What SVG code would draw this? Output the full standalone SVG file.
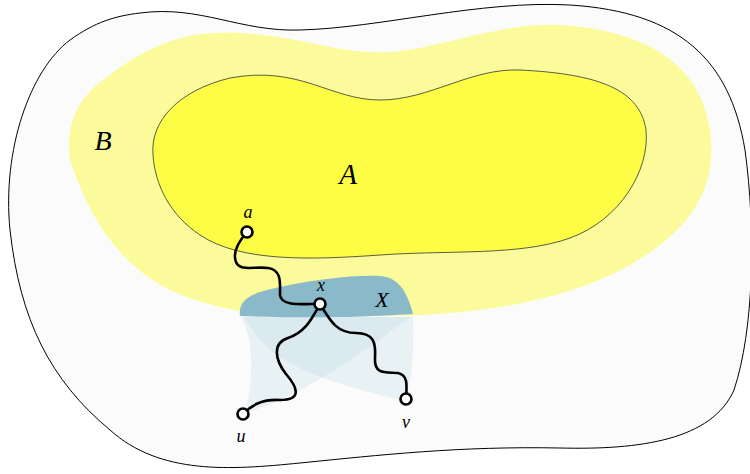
<svg xmlns="http://www.w3.org/2000/svg" width="750" height="474" viewBox="0 0 750 474">
<style>
.lbl{font-family:"Liberation Serif","DejaVu Serif",serif;font-style:italic;fill:#000;text-anchor:middle}
.path{fill:none;stroke:#000;stroke-width:2.6;stroke-linecap:round;stroke-linejoin:round}
.node{fill:#fff;stroke:#000;stroke-width:2.6}
.shade{fill:#bcdae4;fill-opacity:0.3}
</style>
<rect width="750" height="474" fill="#ffffff"/>
<g id="region-outer">
<path d="M 140,13 C 200,5 240,32 300,30 C 380,28 480,0 570,5 C 680,12 730,60 745,150 C 756,230 754,330 734,390 C 712,440 640,450 560,448 C 460,446 380,455 300,463 C 230,470 160,475 110,430 C 50,380 20,320 10,230 C 2,150 30,70 70,40 C 95,22 115,16 140,13 Z" fill="#fbfbfb" stroke="#000" stroke-width="1"/>
</g>
<g id="region-B">
<path d="M 70,160 C 65,120 80,95 110,75 C 150,45 185,30 240,33 C 300,36 340,55 390,52 C 440,49 500,22 560,25 C 640,30 700,60 710,130 C 718,190 690,230 630,265 C 560,305 460,316 380,316 C 300,318 230,318 170,290 C 120,265 90,220 70,160 Z" fill="#fbfb9c"/>
<text class="lbl" x="103" y="150" font-size="28">B</text>
</g>
<g id="region-A">
<path d="M 153,155 C 150,120 180,90 230,78 C 300,65 330,100 380,100 C 430,100 470,68 520,70 C 600,74 640,90 646,130 C 650,170 620,220 570,238 C 520,256 450,250 380,255 C 310,260 240,262 200,235 C 170,215 155,185 153,155 Z" fill="#fdfd45" stroke="#333" stroke-width="0.8"/>
<text class="lbl" x="348" y="184" font-size="29">A</text>
</g>
<g id="shade-u">
<path class="shade" d="M 241,317 C 256,345 252,385 245,413 C 290,400 340,370 410,317 Z"/>
</g>
<g id="shade-v">
<path class="shade" d="M 244,317 C 262,350 290,375 402,400 C 412,390 414,355 413,317 Z"/>
</g>
<g id="region-X">
<path d="M 240,316 C 238,300 250,293 280,287 C 320,279 350,275 380,276 C 400,277 408,295 413,314 C 350,318 300,318 240,316 Z" fill="#8ab9ca"/>
<text class="lbl" x="382" y="307" font-size="22">X</text>
</g>
<g id="connectors">
<path class="path" d="M 247,232 C 240,240 232,252 236,262 C 240,272 255,266 268,268 C 282,270 280,283 280,295 C 281,306 300,304 320,304"/>
<path class="path" d="M 320,304 C 312,318 306,332 288,338 C 272,343 275,360 286,374 C 298,388 302,400 280,400 C 262,399 252,405 243,414"/>
<path class="path" d="M 320,304 C 330,320 336,333 356,333 C 374,333 376,343 375,358 C 374,375 386,372 398,373 C 408,375 407,385 406,399"/>
</g>
<g id="node-a"><circle class="node" cx="247" cy="232" r="5.5"/><text class="lbl" x="248" y="218" font-size="18">a</text></g>
<g id="node-x"><circle class="node" cx="320" cy="304" r="5.5"/><text class="lbl" x="321" y="291" font-size="18">x</text></g>
<g id="node-u"><circle class="node" cx="243" cy="414" r="5.5"/><text class="lbl" x="241" y="442" font-size="18">u</text></g>
<g id="node-v"><circle class="node" cx="406" cy="399" r="5.5"/><text class="lbl" x="406" y="428" font-size="18">v</text></g>
</svg>
